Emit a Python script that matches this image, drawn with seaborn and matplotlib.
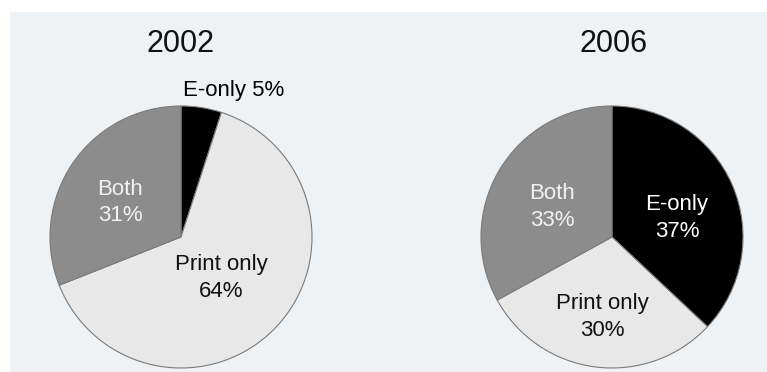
import matplotlib
matplotlib.use("Agg")
import matplotlib.pyplot as plt
import seaborn as sns
from matplotlib.patches import Rectangle

sns.set_theme(style="white")
plt.rcParams["font.family"] = ["Liberation Sans", "DejaVu Sans"]

# Journal format shares, by year
categories = ["E-only", "Print only", "Both"]
years = ["2002", "2006"]
shares_2002 = [5, 64, 31]
shares_2006 = [37, 30, 33]

slice_colors = ["#000000", "#e8e8e8", "#8c8c8c"]
text_colors = ["#000000", "#111111", "#f2f2f2"]
text_colors_2006 = ["#ffffff", "#111111", "#f2f2f2"]

W, H = 767, 372
fig = plt.figure(figsize=(W / 100, H / 100), dpi=100)
fig.patch.set_facecolor("white")
fig.add_artist(Rectangle((10 / W, 0), 1 - 10 / W, 1 - 12 / H,
                         transform=fig.transFigure, facecolor="#eff2f5",
                         edgecolor="none", zorder=0))

R = 131


def pie_axes(cx, cy):
    return fig.add_axes([(cx - R) / W, (H - cy - R) / H, 2 * R / W, 2 * R / H])


def draw(ax, values, label_pos, txt_colors, label_fmt):
    ax.pie(values, colors=slice_colors, startangle=90, counterclock=False,
           radius=1, wedgeprops=dict(edgecolor="#7a7a7a", linewidth=0.8))
    for cat, v, (x, y), c, fmt in zip(categories, values, label_pos, txt_colors, label_fmt):
        ax.text(x, y, fmt.format(cat=cat, v=v), ha="center", va="center",
                fontsize=16, color=c, linespacing=1.32)
    ax.set_xlim(-1, 1)
    ax.set_ylim(-1, 1)
    ax.set_aspect("equal")
    ax.axis("off")


ax1 = pie_axes(181, 237)
draw(ax1, shares_2002,
     [(0.405, 1.122), (0.305, -0.313), (-0.466, 0.26)],
     text_colors,
     ["{cat} {v}%", "{cat}\n{v}%", "{cat}\n{v}%"])
fig.text(181 / W, 1 - 44 / H, years[0], ha="center", va="center", fontsize=22, color="#111111")

ax2 = pie_axes(612, 237)
draw(ax2, shares_2006,
     [(0.496, 0.145), (-0.076, -0.611), (-0.458, 0.229)],
     text_colors_2006,
     ["{cat}\n{v}%", "{cat}\n{v}%", "{cat}\n{v}%"])
fig.text(614 / W, 1 - 44 / H, years[1], ha="center", va="center", fontsize=22, color="#111111")

fig.savefig("out.png", dpi=100, facecolor=fig.get_facecolor())
